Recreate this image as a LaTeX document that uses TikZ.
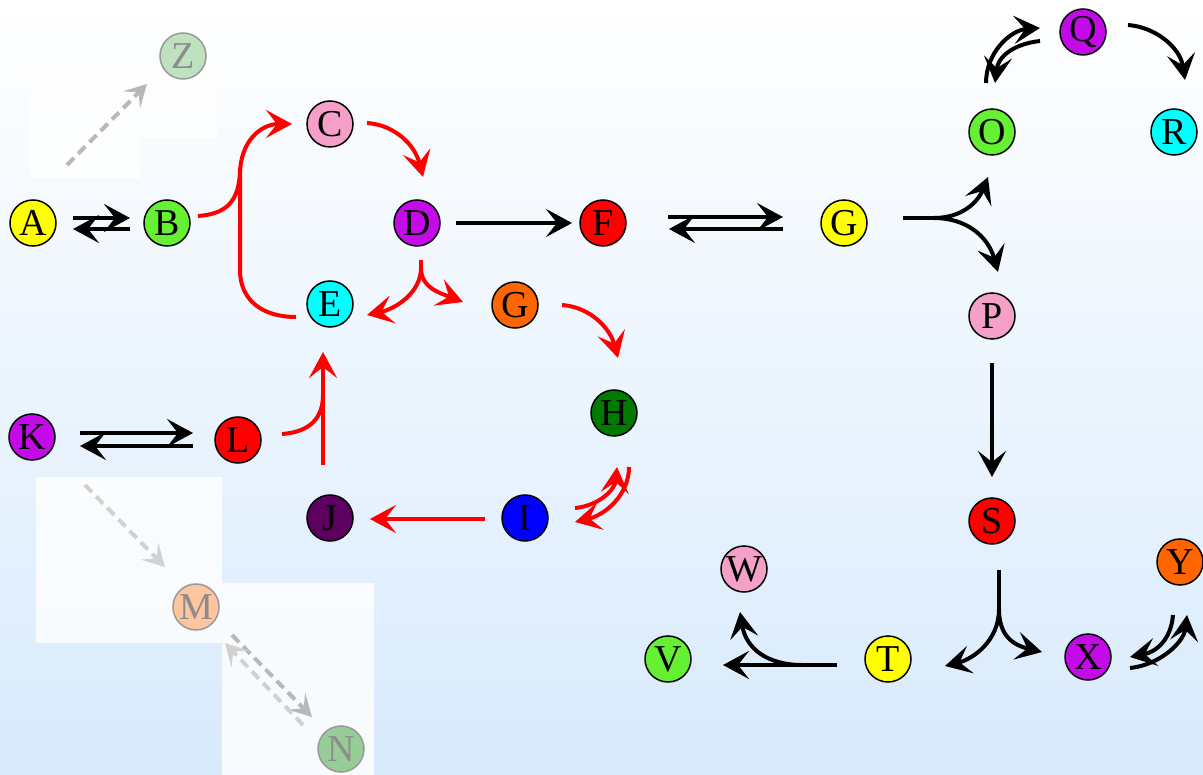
\documentclass[tikz,border=0pt]{standalone}
\usepackage{fontspec}
\setmainfont{Liberation Serif}
\usetikzlibrary{arrows.meta,calc}

\definecolor{bgbot}{RGB}{216,234,252}
\definecolor{cyel}{RGB}{255,255,0}
\definecolor{cgrn}{RGB}{102,240,52}
\definecolor{cpink}{RGB}{245,160,200}
\definecolor{cpurp}{RGB}{196,10,232}
\definecolor{ccyan}{RGB}{0,255,255}
\definecolor{cred}{RGB}{255,0,0}
\definecolor{corg}{RGB}{255,102,0}
\definecolor{cdgrn}{RGB}{0,122,0}
\definecolor{cblue}{RGB}{0,0,255}
\definecolor{cplum}{RGB}{94,0,96}
\definecolor{fadegrn}{RGB}{190,226,192}
\definecolor{fadeorg}{RGB}{255,196,160}
\definecolor{fadegrn2}{RGB}{150,205,150}

\tikzset{
  state/.style={circle, draw=black, line width=1.5pt, minimum size=46pt, inner sep=0pt,
    font=\fontsize{38}{38}\selectfont},
  ghost/.style={circle, draw=black!40, line width=1.5pt, minimum size=46pt, inner sep=0pt,
    text=black!45, font=\fontsize{38}{38}\selectfont},
  blk/.style={draw=black, line width=4pt},
  rline/.style={draw=red, line width=4pt},
  ghostline/.style={draw=black!28, line width=4pt, dash pattern=on 10pt off 6pt},
  ghostline2/.style={draw=black!18, line width=4pt, dash pattern=on 10pt off 6pt},
  veil/.style={fill=white, fill opacity=0.8},
}

\begin{document}
\begin{tikzpicture}[x=1pt, y=-1pt, >={Stealth[length=26pt,width=28pt,inset=11pt]}]
  % background
  \shade[top color=white, bottom color=bgbot] (0,0) rectangle (1203,775);
  \useasboundingbox (0,0) rectangle (1203,775);

  % translucent panels behind the inactive part of the network
  \fill[veil] (30,63) -- (217,63) -- (217,138) -- (140,138) -- (140,178) -- (30,178) -- cycle;
  \fill[veil] (36,477) rectangle (222,643);
  \fill[veil] (222,583) rectangle (374,775);

  % states
  \node[state, fill=cyel]  (A)  at (33,223)   {A};
  \node[state, fill=cgrn]  (B)  at (167,223)  {B};
  \node[state, fill=cpink] (C)  at (330,124)  {C};
  \node[state, fill=cpurp] (D)  at (417,223)  {D};
  \node[state, fill=ccyan] (E)  at (330,304)  {E};
  \node[state, fill=cred]  (F)  at (603,223)  {F};
  \node[state, fill=cyel]  (G1) at (844,223)  {G};
  \node[state, fill=corg]  (G2) at (515,305)  {G};
  \node[state, fill=cdgrn] (H)  at (614,413)  {H};
  \node[state, fill=cblue] (I)  at (525,518)  {I};
  \node[state, fill=cplum] (J)  at (330,518)  {J};
  \node[state, fill=cpurp] (K)  at (32,437)   {K};
  \node[state, fill=cred]  (L)  at (238,440)  {L};
  \node[state, fill=cgrn]  (O)  at (992,132)  {O};
  \node[state, fill=cpurp] (Q)  at (1083,32)  {Q};
  \node[state, fill=ccyan] (R)  at (1174,132) {R};
  \node[state, fill=cpink] (P)  at (992,316)  {P};
  \node[state, fill=cred]  (S)  at (992,521)  {S};
  \node[state, fill=cyel]  (T)  at (888,659)  {T};
  \node[state, fill=cgrn]  (V)  at (668,659)  {V};
  \node[state, fill=cpink] (W)  at (744,569)  {W};
  \node[state, fill=cpurp] (X)  at (1088,657) {X};
  \node[state, fill=corg]  (Y)  at (1180,562) {Y};

  % inactive states
  \node[ghost, fill=fadegrn]  (Z) at (183,56)  {Z};
  \node[ghost, fill=fadeorg]  (M) at (196,607) {M};
  \node[ghost, fill=fadegrn2] (N) at (341,749) {N};

  % inactive transitions
  \draw[ghostline, ->, >={Stealth[length=22pt,width=24pt,inset=10pt]}]
    ($(A)+(34,-58)$) -- ($(Z)+(-36,28)$);
  \draw[ghostline2, ->, >={Stealth[length=22pt,width=24pt,inset=10pt]}]
    ($(K)+(53,48)$) -- ($(M)+(-31,-40)$);
  \draw[ghostline, ->, >={Stealth[length=22pt,width=24pt,inset=10pt]}]
    ($(M)+(36,28)$) -- ($(N)+(-29,-32)$);
  \draw[ghostline2, ->, >={Stealth[length=22pt,width=24pt,inset=10pt]}]
    ($(N)+(-38,-24)$) -- ($(M)+(29,36)$);

  % black reversible pairs
  \draw[blk, ->] ($(A)+(40,-5)$) -- ($(B)+(-37,-5)$);
  \draw[blk, ->] ($(B)+(-37,6)$) -- ($(A)+(40,6)$);
  \draw[blk, ->] ($(F)+(65,-6)$) -- ($(G1)+(-61,-6)$);
  \draw[blk, ->] ($(G1)+(-61,6)$) -- ($(F)+(66,6)$);
  \draw[blk, ->] ($(K)+(48,-4)$) -- ($(L)+(-45,-7)$);
  \draw[blk, ->] ($(L)+(-45,6)$) -- ($(K)+(48,9)$);

  % D to F and P to S
  \draw[blk, ->] ($(D)+(39,0)$) -- ($(F)+(-31,0)$);
  \draw[blk, ->] ($(P)+(0,47)$) -- ($(S)+(0,-44)$);

  % G splits towards O and P
  \draw[blk] ($(G1)+(59,-5)$) -- ($(G1)+(94,-5)$);
  \draw[blk, ->] ($(G1)+(90,-5)$) .. controls ($(G1)+(118,-5)$) and ($(O)+(-14,70)$) .. ($(O)+(-4,45)$);
  \draw[blk, ->] ($(G1)+(90,-5)$) .. controls ($(G1)+(122,-5)$) and ($(P)+(-4,-80)$) .. ($(P)+(6,-44)$);

  % O and Q
  \draw[blk, ->] ($(O)+(-6,-49)$) .. controls ($(O)+(-6,-80)$) and ($(Q)+(-72,-2)$) .. ($(Q)+(-43,-4)$);
  \draw[blk, ->] ($(Q)+(-43,9)$) .. controls ($(Q)+(-70,12)$) and ($(O)+(6,-75)$) .. ($(O)+(3,-49)$);
  \draw[blk, ->] ($(Q)+(45,-7)$) .. controls ($(Q)+(72,-5)$) and ($(R)+(6,-85)$) .. ($(R)+(11,-52)$);

  % S splits towards T and X
  \draw[blk] ($(S)+(7,49)$) -- ($(S)+(7,94)$);
  \draw[blk, ->] ($(S)+(7,88)$) .. controls ($(S)+(7,120)$) and ($(T)+(85,0)$) .. ($(T)+(57,7)$);
  \draw[blk, ->] ($(S)+(7,88)$) .. controls ($(S)+(7,115)$) and ($(X)+(-75,-12)$) .. ($(X)+(-46,-5)$);

  % X and Y
  \draw[blk, ->] ($(X)+(42,11)$) .. controls ($(X)+(72,8)$) and ($(Y)+(4,80)$) .. ($(Y)+(7,53)$);
  \draw[blk, ->] ($(Y)+(-7,53)$) .. controls ($(Y)+(-9,78)$) and ($(X)+(68,-5)$) .. ($(X)+(42,0)$);

  % T splits towards V and W
  \draw[blk, ->] ($(T)+(-51,6)$) -- ($(V)+(55,6)$);
  \draw[blk, ->] ($(T)+(-86,6)$) .. controls ($(W)+(24,96)$) and ($(W)+(2,80)$) .. ($(W)+(-4,43)$);

  % red pathway
  \draw[rline, ->] ($(E)+(-34,13)$) .. controls ($(E)+(-68,13)$) and ($(E)+(-90,-4)$) .. ($(E)+(-90,-34)$)
     -- ($(C)+(-90,51)$) .. controls ($(C)+(-90,16)$) and ($(C)+(-68,0)$) .. ($(C)+(-38,0)$);
  \draw[rline] ($(B)+(31,-7)$) .. controls ($(B)+(58,-9)$) and ($(B)+(73,-20)$) .. ($(B)+(73,-55)$);
  \draw[rline, ->] ($(C)+(37,-1)$) .. controls ($(C)+(65,1)$) and ($(D)+(-2,-78)$) .. ($(D)+(6,-46)$);
  \draw[rline] ($(D)+(4,37)$) -- ($(D)+(4,50)$);
  \draw[rline, ->] ($(D)+(4,45)$) .. controls ($(D)+(4,70)$) and ($(E)+(65,5)$) .. ($(E)+(37,11)$);
  \draw[rline, ->] ($(D)+(4,45)$) .. controls ($(D)+(4,65)$) and ($(G2)+(-75,-12)$) .. ($(G2)+(-52,-3)$);
  \draw[rline, ->] ($(G2)+(47,0)$) .. controls ($(G2)+(75,2)$) and ($(H)+(-4,-85)$) .. ($(H)+(4,-55)$);
  \draw[rline, ->] ($(H)+(15,54)$) .. controls ($(H)+(15,82)$) and ($(I)+(80,-3)$) .. ($(I)+(50,4)$);
  \draw[rline, ->] ($(I)+(50,-10)$) .. controls ($(I)+(73,-12)$) and ($(H)+(1,77)$) .. ($(H)+(3,54)$);
  \draw[rline, ->] ($(I)+(-40,1)$) -- ($(J)+(40,1)$);
  \draw[rline, ->] ($(J)+(-7,-53)$) -- ($(E)+(-7,48)$);
  \draw[rline] ($(L)+(44,-6)$) .. controls ($(L)+(72,-8)$) and ($(L)+(85,-22)$) .. ($(L)+(85,-45)$);
\end{tikzpicture}
\end{document}
